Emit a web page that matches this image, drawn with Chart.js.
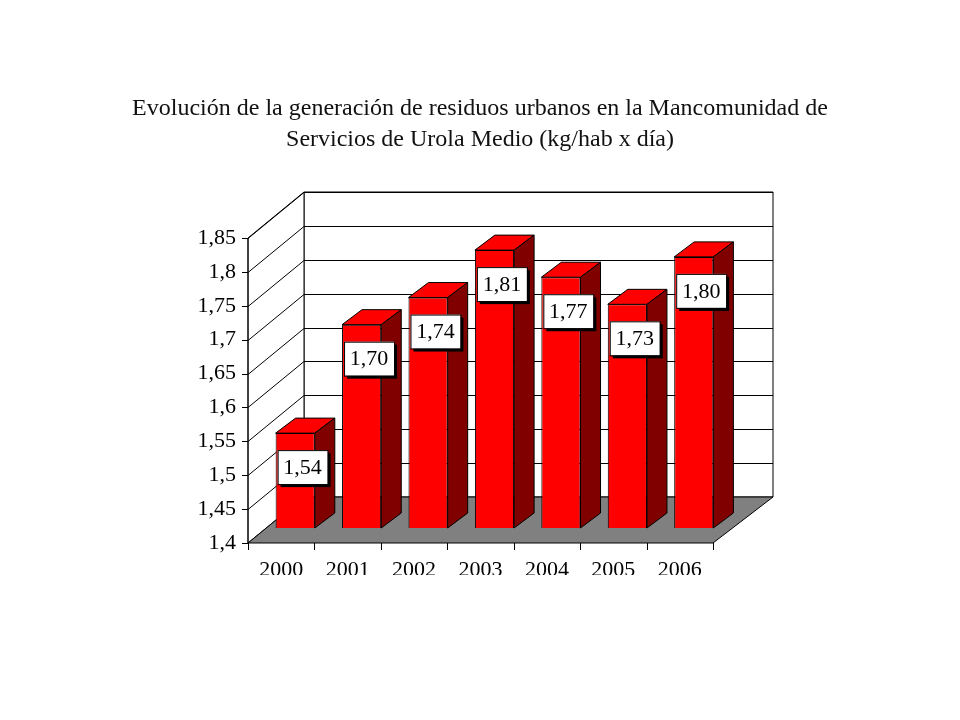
<!DOCTYPE html>
<html><head><meta charset="utf-8">
<script src="https://cdn.jsdelivr.net/npm/chart.js@4"></script>
<style>html,body{margin:0;background:#fff}#w{width:960px;height:720px}</style>
</head><body><div id="w"><canvas id="c"></canvas></div>
<script>
const categories = ["2000","2001","2002","2003","2004","2005","2006"];
const values = [1.54,1.70,1.74,1.81,1.77,1.73,1.80];
const valueLabels = ["1,54","1,70","1,74","1,81","1,77","1,73","1,80"];
const titleLines = ["Evolución de la generación de residuos urbanos en la Mancomunidad de","Servicios de Urola Medio (kg/hab x día)"];
const yMin = 1.4, yMax = 1.85;

const DX = 56, DY = -46;      // wall depth
const BX = 14, BY = -15;      // bar shift
const PX = 20, PY = -15;      // bar depth
const FONT = '"Liberation Serif", "Times New Roman", serif';

const scene = {
  id: 'scene',
  beforeDatasetsDraw(chart) {
    const {ctx, chartArea: a, scales: {y}} = chart;
    ctx.save();
    ctx.fillStyle = '#111'; ctx.font = '24px ' + FONT; ctx.textAlign = 'center'; ctx.textBaseline = 'middle';
    ctx.fillText(titleLines[0], 480, 109); ctx.fillText(titleLines[1], 480, 140);
    ctx.lineWidth = 1; ctx.strokeStyle = '#000';
    ctx.fillStyle = '#fff';
    ctx.beginPath(); ctx.rect(a.left + DX, a.top + DY, a.right - a.left + 4, a.bottom - a.top); ctx.fill(); ctx.stroke();
    ctx.beginPath(); ctx.moveTo(a.left, a.bottom); ctx.lineTo(a.left, a.top); ctx.lineTo(a.left + DX, a.top + DY); ctx.lineTo(a.left + DX, a.bottom + DY); ctx.closePath(); ctx.fill(); ctx.stroke();
    for (let v = yMin; v <= yMax + 1e-9; v += 0.05) {
      const py = Math.round(y.getPixelForValue(v)) + 0.5;
      ctx.beginPath(); ctx.moveTo(a.left, py); ctx.lineTo(a.left + DX, py + DY); ctx.lineTo(a.right + DX + 4, py + DY); ctx.stroke();
      ctx.beginPath(); ctx.moveTo(a.left - 6, py); ctx.lineTo(a.left, py); ctx.stroke();
    }
    ctx.fillStyle = '#808080';
    ctx.beginPath(); ctx.moveTo(a.left, a.bottom); ctx.lineTo(a.right, a.bottom); ctx.lineTo(a.right + DX + 4, a.bottom + DY); ctx.lineTo(a.left + DX, a.bottom + DY); ctx.closePath(); ctx.fill(); ctx.stroke();
    ctx.beginPath(); ctx.moveTo(a.left, a.bottom); ctx.lineTo(a.left, a.top); ctx.stroke();
    const n = categories.length, w = (a.right - a.left) / n;
    for (let i = 0; i <= n; i++) {
      const px = Math.round(a.left + i * w) + 0.5;
      ctx.beginPath(); ctx.moveTo(px, a.bottom); ctx.lineTo(px, a.bottom + 7); ctx.stroke();
    }
    ctx.restore();
    ctx.save(); ctx.translate(BX, BY);
  },
  afterDatasetsDraw(chart) {
    const {ctx} = chart;
    const els = chart.getDatasetMeta(0).data;
    els.forEach(el => {
      const l = el.x - el.width / 2, r = el.x + el.width / 2, t = el.y, b = el.base;
      ctx.strokeStyle = '#000'; ctx.lineWidth = 1;
      ctx.fillStyle = '#ff0000';
      ctx.beginPath(); ctx.moveTo(l, t); ctx.lineTo(l + PX, t + PY); ctx.lineTo(r + PX, t + PY); ctx.lineTo(r, t); ctx.closePath(); ctx.fill(); ctx.stroke();
      ctx.fillStyle = '#800000';
      ctx.beginPath(); ctx.moveTo(r, t); ctx.lineTo(r + PX, t + PY); ctx.lineTo(r + PX, b + PY); ctx.lineTo(r, b); ctx.closePath(); ctx.fill(); ctx.stroke();
    });
    ctx.restore();
    ctx.save();
    els.forEach((el, i) => {
      const bx = el.x - el.width / 2 + BX + 2, by = el.y + BY + 17, bw = 50, bh = 34;
      ctx.fillStyle = '#000'; ctx.fillRect(bx + 3, by + 3, bw, bh);
      ctx.fillStyle = '#fff'; ctx.fillRect(bx, by, bw, bh);
      ctx.strokeStyle = '#000'; ctx.strokeRect(bx + 0.5, by + 0.5, bw, bh);
      ctx.fillStyle = '#000'; ctx.font = '22px ' + FONT; ctx.textAlign = 'center'; ctx.textBaseline = 'middle';
      ctx.fillText(valueLabels[i], bx + bw / 2, by + bh / 2 + 1);
    });
    ctx.restore();
  }
};

new Chart(document.getElementById('c'), {
  type: 'bar',
  data: { labels: categories, datasets: [{ data: values, backgroundColor: '#ff0000', borderColor: '#000', borderWidth: 1, barPercentage: 0.59, categoryPercentage: 1, base: yMin }] },
  options: {
    responsive: true, maintainAspectRatio: false, animation: false,
    layout: { padding: { left: 150, right: 247, top: 238, bottom: 145 } },
    plugins: { legend: { display: false }, tooltip: { enabled: false } },
    scales: {
      x: { grid: { display: false, drawTicks: false }, border: { display: false },
           ticks: { color: '#000', font: { family: FONT, size: 22 }, padding: 14 },
           afterFit(s) { s.height = 32; } },
      y: { min: yMin, max: yMax, grid: { display: false, drawTicks: false }, border: { display: false },
           ticks: { stepSize: 0.05, color: '#000', font: { family: FONT, size: 22 }, padding: 12,
                    callback: v => String(Math.round(v * 100) / 100).replace('.', ',') },
           afterFit(s) { s.width = 98; } }
    }
  },
  plugins: [scene]
});
</script></body></html>
